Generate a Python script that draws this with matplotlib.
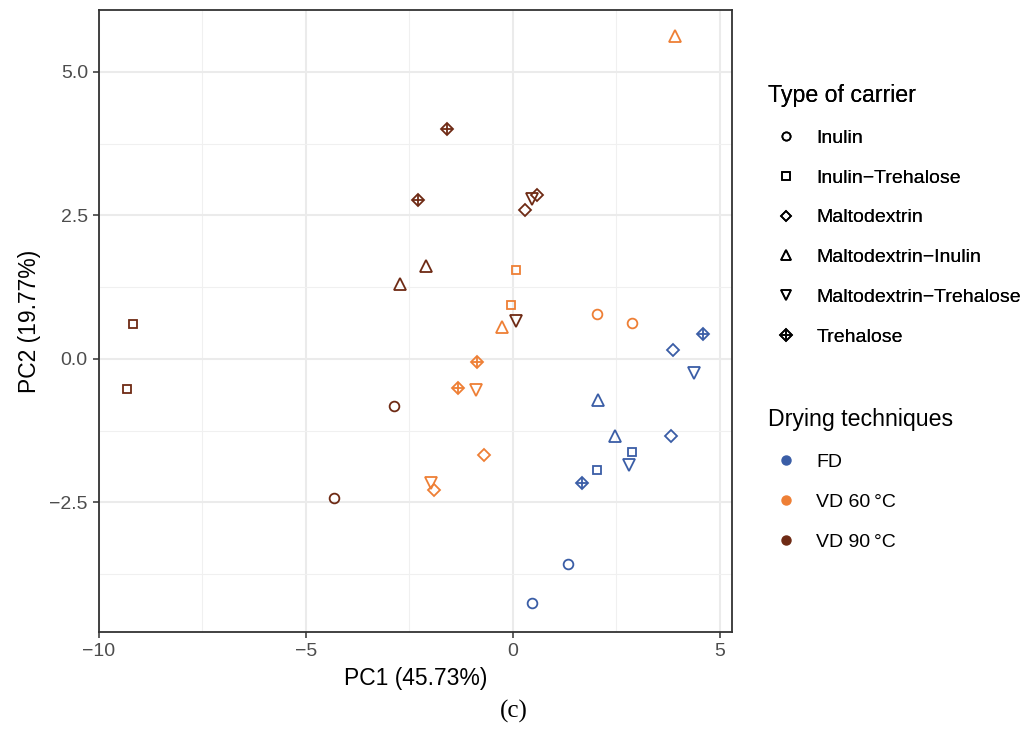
import matplotlib
matplotlib.use("Agg")
import matplotlib.pyplot as plt
from matplotlib.lines import Line2D
from matplotlib.ticker import FixedLocator

plt.rcParams['font.family'] = ['Liberation Sans', 'DejaVu Sans']

# scores
drying = ["VD 90"] * 12 + ["VD 60"] * 12 + ["FD"] * 12
carrier = [
    # VD 90
    "Inulin-Trehalose", "Inulin-Trehalose", "Inulin", "Inulin",
    "Maltodextrin-Inulin", "Maltodextrin-Inulin", "Trehalose", "Trehalose",
    "Maltodextrin", "Maltodextrin", "Maltodextrin-Trehalose", "Maltodextrin-Trehalose",
    # VD 60
    "Maltodextrin-Inulin", "Inulin-Trehalose", "Inulin-Trehalose", "Maltodextrin-Inulin",
    "Inulin", "Inulin", "Trehalose", "Trehalose",
    "Maltodextrin-Trehalose", "Maltodextrin", "Maltodextrin-Trehalose", "Maltodextrin",
    # FD
    "Trehalose", "Maltodextrin", "Maltodextrin-Trehalose", "Maltodextrin-Inulin",
    "Maltodextrin-Inulin", "Maltodextrin", "Inulin-Trehalose", "Inulin-Trehalose",
    "Maltodextrin-Trehalose", "Trehalose", "Inulin", "Inulin",
]
pc1 = [
    -9.18, -9.33, -2.86, -4.32, -2.73, -2.10, -1.60, -2.30, 0.30, 0.59, 0.46, 0.07,
    3.91, 0.08, -0.04, -0.25, 2.03, 2.89, -0.87, -1.33, -0.89, -0.69, -1.97, -1.90,
    4.61, 3.87, 4.39, 2.06, 2.47, 3.83, 2.89, 2.04, 2.82, 1.67, 1.34, 0.46,
]
pc2 = [
    0.61, -0.53, -0.82, -2.42, 1.31, 1.62, 4.01, 2.76, 2.59, 2.86, 2.79, 0.66,
    5.62, 1.55, 0.93, 0.55, 0.78, 0.62, -0.06, -0.50, -0.55, -1.67, -2.17, -2.29,
    0.43, 0.16, -0.24, -0.71, -1.34, -1.34, -1.62, -1.94, -1.85, -2.17, -3.57, -4.26,
]

carrier_levels = ["Inulin", "Inulin-Trehalose", "Maltodextrin",
                  "Maltodextrin-Inulin", "Maltodextrin-Trehalose", "Trehalose"]
carrier_labels = [c.replace("-", "\u2212") for c in carrier_levels]
drying_levels = ["FD", "VD 60", "VD 90"]
drying_labels = ["FD", "VD 60\u2009°C", "VD 90\u2009°C"]

colors = {"FD": "#3A5DA6", "VD 60": "#EE7F35", "VD 90": "#6E2A14"}
markers = {"Inulin": ("o", 7.0), "Inulin-Trehalose": ("s", 6.4),
           "Maltodextrin": ("D", 6.2), "Maltodextrin-Inulin": ("^", 8.6),
           "Maltodextrin-Trehalose": ("v", 8.6), "Trehalose": ("D", 6.6)}

fig = plt.figure(figsize=(10.30, 7.51), dpi=100)
ax = fig.add_axes([0.0961, 0.1585, 0.6146, 0.8282])

for x, y, c, d in zip(pc1, pc2, carrier, drying):
    m, s = markers[c]
    ax.plot(x, y, linestyle="none", marker=m, markersize=s, markerfacecolor="none",
            markeredgecolor=colors[d], markeredgewidth=1.3, zorder=3)
    if c == "Trehalose":
        ax.plot(x, y, linestyle="none", marker="+", markersize=s * 1.414,
                markeredgecolor=colors[d], markeredgewidth=1.3, zorder=3)

ax.set_xlim(-10.0, 5.3)
ax.set_ylim(-4.76, 6.08)
ax.xaxis.set_major_locator(FixedLocator([-10, -5, 0, 5]))
ax.xaxis.set_minor_locator(FixedLocator([-7.5, -2.5, 2.5]))
ax.yaxis.set_major_locator(FixedLocator([-2.5, 0, 2.5, 5.0]))
ax.yaxis.set_minor_locator(FixedLocator([-3.75, -1.25, 1.25, 3.75]))
ax.set_xticklabels(["\u221210", "\u22125", "0", "5"])
ax.set_yticklabels(["\u22122.5", "0.0", "2.5", "5.0"])
ax.grid(which="major", color="#EBEBEB", linewidth=1.5, zorder=0)
ax.grid(which="minor", color="#F0F0F0", linewidth=0.8, zorder=0)
ax.set_axisbelow(True)
ax.tick_params(which="major", direction="out", length=4, width=1.1, color="#333333",
               labelsize=14, labelcolor="#4D4D4D", pad=4)
ax.tick_params(which="minor", length=0)
for sp in ax.spines.values():
    sp.set_color("#333333")
    sp.set_linewidth(1.3)

ax.set_xlabel("PC1 (45.73%)", fontsize=16.5, labelpad=5)
ax.set_ylabel("PC2 (19.77%)", fontsize=16.5, labelpad=6)

# legends
h1 = []
for c in carrier_levels:
    m, s = markers[c]
    h1.append(Line2D([], [], linestyle="none", marker=m, markersize=s * 0.85,
                     markerfacecolor="none", markeredgecolor="black", markeredgewidth=1.2))
h1[-1] = (h1[-1], Line2D([], [], linestyle="none", marker="+", markersize=6.6 * 0.85 * 1.414,
                         markeredgecolor="black", markeredgewidth=1.2))
leg1 = fig.legend(h1, carrier_labels, loc="upper left", bbox_to_anchor=(0.746, 0.888),
                  frameon=False, title="Type of carrier", title_fontsize=16.7,
                  fontsize=14.0, alignment="left", handlelength=1.85,
                  handletextpad=0.62, labelspacing=1.14, borderpad=0, borderaxespad=0)

h2 = [Line2D([], [], linestyle="none", marker="o", markersize=6.5,
             markerfacecolor=colors[d], markeredgecolor=colors[d]) for d in drying_levels]
leg2 = fig.legend(h2, drying_labels, loc="upper left", bbox_to_anchor=(0.746, 0.457),
                  frameon=False, title="Drying techniques", title_fontsize=16.7,
                  fontsize=14.0, alignment="left", handlelength=1.85,
                  handletextpad=0.62, labelspacing=1.16, borderpad=0, borderaxespad=0)
fig.add_artist(leg1)

fig.text(0.499, 0.052, "(c)", fontsize=18, family="Liberation Serif", ha="center", va="center")

fig.savefig("out.png", dpi=100)
